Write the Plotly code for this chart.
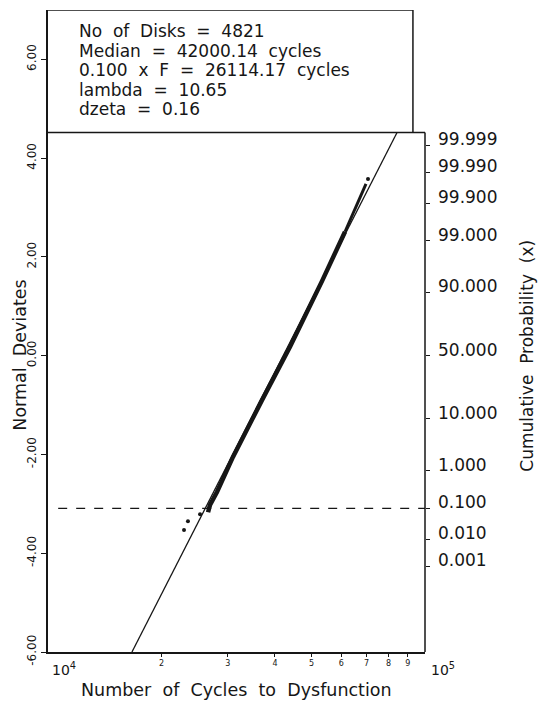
import plotly.graph_objects as go

# ---- data ----
info_lines = ["No of Disks = 4821", "Median = 42000.14 cycles",
              "0.100 x F = 26114.17 cycles", "lambda = 10.65", "dzeta = 0.16"]

# dense band of observed points (cycles, normal deviate)
band_x = [26580, 26900, 28070, 30950, 36950, 43850, 53310, 61350, 67230, 69740]
band_y = [-3.17, -3.02, -2.76, -2.05, -0.90, 0.18, 1.51, 2.51, 3.21, 3.48]
# isolated points
outlier_x = [22950, 23510, 25310, 70600]
outlier_y = [-3.53, -3.35, -3.21, 3.58]
# fitted lognormal line endpoints
fit_x = [16700, 84300]
fit_y = [-6.0, 4.52]

# left axis ticks
dev_ticks = [-6, -4, -2, 0, 2, 4, 6]
dev_labels = ["-6.00", "-4.00", "-2.00", "0.00", "2.00", "4.00", "6.00"]
# right axis: cumulative probability (%) and its normal deviate
prob_labels = ["99.999", "99.990", "99.900", "99.000", "90.000", "50.000",
               "10.000", "1.000", "0.100", "0.010", "0.001"]
prob_dev = [4.265, 3.719, 3.090, 2.326, 1.2816, 0.0,
            -1.2816, -2.326, -3.090, -3.719, -4.265]
# x minor tick labels
x_ticks = [20000, 30000, 40000, 50000, 60000, 70000, 80000, 90000]
x_labels = ["2", "3", "4", "5", "6", "7", "8", "9"]

ref_level = -3.090      # 0.1 % level (dashed)
box_level = 4.52        # bottom of the info box
y_range = [-6, 7]

FONT = "DejaVu Sans"
INK = "#161616"


def wide(s):
    # the plotter font of the original uses wide word spacing
    return s.replace(" ", "\u00a0 ")


fig = go.Figure()
fig.add_trace(go.Scatter(x=fit_x, y=fit_y, mode="lines",
                         line=dict(color=INK, width=1.3), yaxis="y2",
                         hoverinfo="skip", showlegend=False))
fig.add_trace(go.Scatter(x=band_x[:8], y=band_y[:8], mode="lines",
                         line=dict(color=INK, width=4.5), showlegend=False))
fig.add_trace(go.Scatter(x=band_x[7:], y=band_y[7:], mode="lines",
                         line=dict(color=INK, width=3), showlegend=False))
fig.add_trace(go.Scatter(x=outlier_x, y=outlier_y, mode="markers",
                         marker=dict(color=INK, size=4), showlegend=False))

shapes = [
    dict(type="line", xref="paper", yref="y", x0=0, x1=1, y0=box_level, y1=box_level,
         line=dict(color=INK, width=1.5)),
    dict(type="line", xref="paper", yref="y", x0=0, x1=0.968, y0=7, y1=7,
         line=dict(color=INK, width=1.5)),
    dict(type="line", xref="paper", yref="y", x0=0.968, x1=0.968, y0=box_level, y1=7,
         line=dict(color=INK, width=1.5)),
    dict(type="line", xref="paper", yref="y", x0=1, x1=1, y0=-6, y1=box_level,
         line=dict(color=INK, width=1.5)),
    dict(type="line", xref="paper", yref="y", x0=0.027, x1=1, y0=ref_level, y1=ref_level,
         line=dict(color=INK, width=1.3, dash="dash")),
]

annotations = []
line_top = 6.575
line_step = 0.395
for i, t in enumerate(info_lines):
    annotations.append(dict(text=wide(t), xref="paper", yref="y", x=0.077,
                            y=line_top - i * line_step, xanchor="left", yanchor="middle",
                            showarrow=False, font=dict(family=FONT, size=17, color=INK)))
for lab, d in zip(prob_labels, prob_dev):
    annotations.append(dict(text=lab, xref="paper", yref="y", x=1, y=d, xshift=11,
                            yshift=6, xanchor="left", yanchor="middle", showarrow=False,
                            font=dict(family=FONT, size=17, color=INK)))
annotations += [
    dict(text="10<sup>4</sup>", xref="paper", yref="paper", x=0.0, y=0, xshift=2,
         yshift=-17, xanchor="left", yanchor="middle", showarrow=False,
         font=dict(family=FONT, size=14, color=INK)),
    dict(text="10<sup>5</sup>", xref="paper", yref="paper", x=1.0, y=0, xshift=4,
         yshift=-17, xanchor="left", yanchor="middle", showarrow=False,
         font=dict(family=FONT, size=14, color=INK)),
    dict(text=wide("Number of Cycles to Dysfunction"), xref="paper", yref="paper",
         x=0.5, y=0, yshift=-38, xanchor="center", yanchor="middle", showarrow=False,
         font=dict(family=FONT, size=17.5, color=INK)),
    dict(text=wide("Normal Deviates"), xref="paper", yref="y", x=0, y=0, xshift=-28,
         xanchor="center", yanchor="middle", textangle=-90, showarrow=False,
         font=dict(family=FONT, size=17.5, color=INK)),
    dict(text=wide("Cumulative Probability (x)"), xref="paper", yref="y", x=1, y=0,
         xshift=102, xanchor="center", yanchor="middle", textangle=-90, showarrow=False,
         font=dict(family=FONT, size=17, color=INK)),
]

fig.update_layout(
    width=540, height=702,
    margin=dict(l=48, r=115, t=10, b=50),
    paper_bgcolor="white", plot_bgcolor="white",
    showlegend=False,
    xaxis=dict(type="log", range=[4, 5], showgrid=False, zeroline=False,
               showline=True, linecolor=INK, linewidth=1.5,
               ticks="outside", ticklen=3, tickcolor=INK,
               tickvals=x_ticks, ticktext=x_labels,
               tickfont=dict(family=FONT, size=8, color=INK)),
    yaxis=dict(range=y_range, showgrid=False, zeroline=False,
               showline=True, linecolor=INK, linewidth=1.5,
               ticks="outside", ticklen=5, tickcolor=INK,
               tickvals=dev_ticks, ticktext=dev_labels, tickangle=-90,
               tickfont=dict(family=FONT, size=12, color=INK)),
    yaxis2=dict(range=y_range, overlaying="y", side="right", showgrid=False,
                zeroline=False, showline=False, showticklabels=False,
                ticks="outside", ticklen=4, tickcolor=INK, tickvals=prob_dev),
    shapes=shapes,
    annotations=annotations,
)

fig.write_html("out.html", config={"displayModeBar": False},
               post_script="document.body.style.margin='0';document.body.style.padding='0';")
